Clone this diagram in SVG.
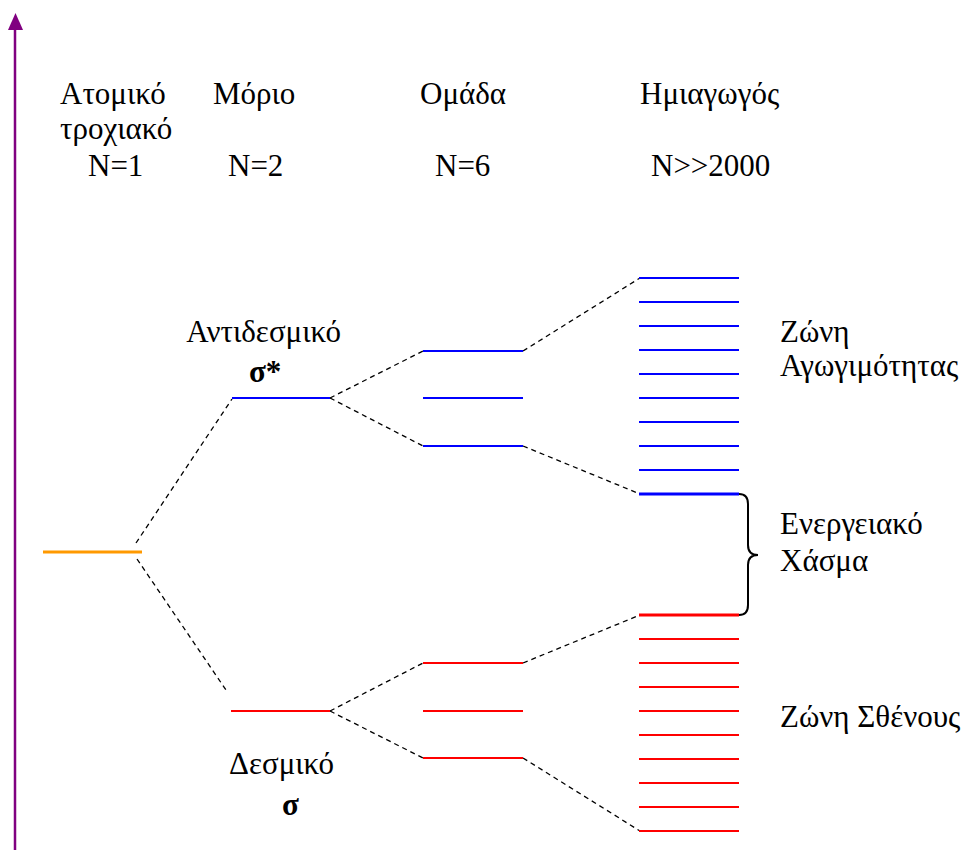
<svg xmlns="http://www.w3.org/2000/svg" width="970" height="850" viewBox="0 0 970 850">
  <style>
    text { fill: #000; }
    .t { font-family: 'Liberation Serif', 'DejaVu Serif', serif; font-size: 31px; }
    .b { font-family: 'Liberation Serif', 'DejaVu Serif', serif; font-size: 31px; font-weight: bold; }
    .dash { stroke: #000; stroke-width: 1.3; stroke-dasharray: 5 4; fill: none; }
    .blue { stroke: #0000ff; stroke-width: 2; }
    .red { stroke: #ff0000; stroke-width: 2; }
    .edge { stroke-width: 3; }
  </style>
  <rect width="970" height="850" fill="#fff"/>

  <!-- energy axis -->
  <g id="axis">
    <line x1="15" y1="850" x2="15" y2="28" stroke="#800080" stroke-width="2.5"/>
    <polygon points="8,30 23,30 15.5,13" fill="#800080"/>
  </g>

  <!-- column headings -->
  <g id="headings">
    <text class="t" x="60" y="104">Ατομικό</text>
    <text class="t" x="60" y="139">τροχιακό</text>
    <text class="t" x="88" y="176">N=1</text>
    <text class="t" x="213" y="104">Μόριο</text>
    <text class="t" x="228" y="176">N=2</text>
    <text class="t" x="420" y="104">Ομάδα</text>
    <text class="t" x="435" y="176">N=6</text>
    <text class="t" x="640" y="104">Ημιαγωγός</text>
    <text class="t" x="651" y="176">N&gt;&gt;2000</text>
  </g>

  <!-- connectors -->
  <g id="connectors">
    <line class="dash" x1="136" y1="543" x2="232" y2="399"/>
    <line class="dash" x1="137" y1="559" x2="226" y2="690"/>
    <line class="dash" x1="330" y1="398" x2="423" y2="351"/>
    <line class="dash" x1="330" y1="398" x2="423" y2="446"/>
    <line class="dash" x1="523" y1="351" x2="640" y2="278"/>
    <line class="dash" x1="523" y1="446" x2="640" y2="494"/>
    <line class="dash" x1="330" y1="711" x2="423" y2="663"/>
    <line class="dash" x1="330" y1="711" x2="423" y2="758"/>
    <line class="dash" x1="523" y1="663" x2="640" y2="615"/>
    <line class="dash" x1="523" y1="758" x2="640" y2="831"/>
  </g>

  <!-- atomic orbital -->
  <g id="atomic">
    <line x1="43" y1="552" x2="142" y2="552" stroke="#ff9900" stroke-width="3"/>
  </g>

  <!-- molecular levels -->
  <g id="antibonding">
    <line class="blue" x1="232" y1="398" x2="330" y2="398"/>
    <text class="t" x="341" y="342" text-anchor="end">Αντιδεσμικό</text>
    <text class="b" x="249" y="382">σ*</text>
  </g>
  <g id="bonding">
    <line class="red" x1="231" y1="711" x2="330" y2="711"/>
    <text class="t" x="229" y="774">Δεσμικό</text>
    <text class="b" x="282" y="815">σ</text>
  </g>

  <!-- cluster levels -->
  <g id="cluster-upper">
    <line class="blue" x1="423" y1="351" x2="523" y2="351"/>
    <line class="blue" x1="423" y1="398" x2="523" y2="398"/>
    <line class="blue" x1="423" y1="446" x2="523" y2="446"/>
  </g>
  <g id="cluster-lower">
    <line class="red" x1="423" y1="663" x2="523" y2="663"/>
    <line class="red" x1="423" y1="711" x2="523" y2="711"/>
    <line class="red" x1="423" y1="758" x2="523" y2="758"/>
  </g>

  <!-- conduction band -->
  <g id="conduction-band">
    <line class="blue" x1="639" y1="278" x2="739" y2="278"/>
    <line class="blue" x1="639" y1="302" x2="739" y2="302"/>
    <line class="blue" x1="639" y1="326" x2="739" y2="326"/>
    <line class="blue" x1="639" y1="350" x2="739" y2="350"/>
    <line class="blue" x1="639" y1="374" x2="739" y2="374"/>
    <line class="blue" x1="639" y1="398" x2="739" y2="398"/>
    <line class="blue" x1="639" y1="422" x2="739" y2="422"/>
    <line class="blue" x1="639" y1="446" x2="739" y2="446"/>
    <line class="blue" x1="639" y1="470" x2="739" y2="470"/>
    <line class="blue edge" x1="639" y1="494" x2="739" y2="494"/>
    <text class="t" x="780" y="342">Ζώνη</text>
    <text class="t" x="780" y="376">Αγωγιμότητας</text>
  </g>

  <!-- band gap -->
  <g id="band-gap">
    <path d="M739,494 Q748,494 748,504 L748,545 Q748,555 758,555 Q748,555 748,565 L748,605 Q748,615 739,615" fill="none" stroke="#000" stroke-width="2"/>
    <text class="t" x="780" y="534">Ενεργειακό</text>
    <text class="t" x="780" y="571">Χάσμα</text>
  </g>

  <!-- valence band -->
  <g id="valence-band">
    <line class="red edge" x1="639" y1="615" x2="739" y2="615"/>
    <line class="red" x1="639" y1="639" x2="739" y2="639"/>
    <line class="red" x1="639" y1="663" x2="739" y2="663"/>
    <line class="red" x1="639" y1="687" x2="739" y2="687"/>
    <line class="red" x1="639" y1="711" x2="739" y2="711"/>
    <line class="red" x1="639" y1="735" x2="739" y2="735"/>
    <line class="red" x1="639" y1="759" x2="739" y2="759"/>
    <line class="red" x1="639" y1="783" x2="739" y2="783"/>
    <line class="red" x1="639" y1="807" x2="739" y2="807"/>
    <line class="red" x1="639" y1="831" x2="739" y2="831"/>
    <text class="t" x="780" y="727">Ζώνη Σθένους</text>
  </g>
</svg>
